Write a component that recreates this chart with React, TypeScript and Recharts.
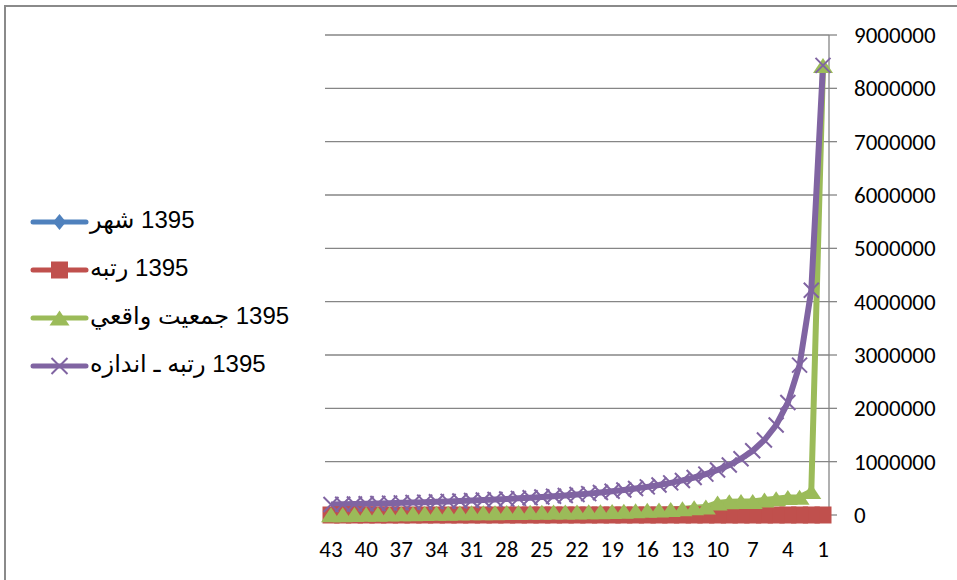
import React from 'react';
import { LineChart, Line, XAxis, YAxis, CartesianGrid } from 'recharts';

// categories: city rank 1..43 (axis drawn reversed, 1 on the right)
const ranks = [
  1, 2, 3, 4, 5, 6, 7, 8, 9, 10, 11, 12, 13, 14, 15, 16, 17, 18, 19, 20, 21, 22,
  23, 24, 25, 26, 27, 28, 29, 30, 31, 32, 33, 34, 35, 36, 37, 38, 39, 40, 41, 42, 43,
];

// "شهر" column holds city names, so it plots as zero
const cityValues = [
  0, 0, 0, 0, 0, 0, 0, 0, 0, 0, 0, 0, 0, 0, 0, 0, 0, 0, 0, 0, 0, 0,
  0, 0, 0, 0, 0, 0, 0, 0, 0, 0, 0, 0, 0, 0, 0, 0, 0, 0, 0, 0, 0,
];

const rankValues = [
  1, 2, 3, 4, 5, 6, 7, 8, 9, 10, 11, 12, 13, 14, 15, 16, 17, 18, 19, 20, 21, 22,
  23, 24, 25, 26, 27, 28, 29, 30, 31, 32, 33, 34, 35, 36, 37, 38, 39, 40, 41, 42, 43,
];

const actualPop = [
  8430000, 440000, 335000, 330000, 305000, 280000, 255000, 255000, 248000, 225000,
  150000, 135000, 115000, 105000, 95000, 88000, 78000, 72000, 67000, 63000,
  60000, 58000, 56000, 54000, 52000, 50000, 48000, 46000, 44000, 42000,
  40000, 37000, 34000, 31000, 28000, 25000, 22000, 19000, 16000, 13000,
  10000, 7000, 4000,
];

const rankSizePop = [
  8430000, 4215000, 2810000, 2108000, 1686000, 1405000, 1204000, 1054000, 937000, 843000,
  766000, 703000, 648000, 602000, 562000, 527000, 496000, 468000, 444000, 422000,
  401000, 383000, 367000, 351000, 337000, 324000, 312000, 301000, 291000, 281000,
  272000, 263000, 255000, 248000, 241000, 234000, 228000, 222000, 216000, 211000,
  206000, 201000, 196000,
];

const yTicks = [0, 1000000, 2000000, 3000000, 4000000, 5000000, 6000000, 7000000, 8000000, 9000000];

const seriesNames = ['1395 شهر', '1395 رتبه', '1395 جمعيت واقعي', '1395 رتبه ـ اندازه'];
const seriesKeys = ['city', 'rank1395', 'actual', 'rankSize'];
const colors = ['#4F81BD', '#C0504D', '#9BBB59', '#8064A2'];

type Shape = 'diamond' | 'square' | 'triangle' | 'cross';
const shapes: Shape[] = ['diamond', 'square', 'triangle', 'cross'];

const data = ranks.map((r, i) => ({
  rank: r,
  city: cityValues[i],
  rank1395: rankValues[i],
  actual: actualPop[i],
  rankSize: rankSizePop[i],
}));

const GRID = '#868686';
const AXIS_FONT = 'Carlito, Calibri, Lato, sans-serif';

function Marker({ shape, x, y, color, legend }: { shape: Shape; x: number; y: number; color: string; legend?: boolean }) {
  switch (shape) {
    case 'diamond':
      return <path d={`M${x},${y - 8}L${x + 6.5},${y}L${x},${y + 8}L${x - 6.5},${y}Z`} fill={color} />;
    case 'square':
      return <rect x={x - 8.5} y={y - 8.5} width={17} height={17} fill={color} />;
    case 'triangle':
      return <path d={`M${x},${y - 7.5}L${x + 10},${y + 7.5}L${x - 10},${y + 7.5}Z`} fill={color} />;
    default: {
      const h = legend ? 8 : 7.5;
      return (
        <path
          d={`M${x - h},${y - h}L${x + h},${y + h}M${x + h},${y - h}L${x - h},${y + h}`}
          stroke={color}
          strokeWidth={2}
          fill="none"
        />
      );
    }
  }
}

const dotFor = (shape: Shape, color: string) => (props: any) => {
  const { cx, cy, index } = props;
  if (cx == null || cy == null) return <g key={`${shape}-${index}`} />;
  return (
    <g key={`${shape}-${index}`}>
      <Marker shape={shape} x={cx} y={cy} color={color} />
    </g>
  );
};

const App: React.FC = () => {
  return (
    <div style={{ position: 'absolute', left: 0, top: 0, width: 957, height: 580, overflow: 'hidden', background: '#fff' }}>
      <div
        style={{
          position: 'absolute',
          left: 4,
          top: 5,
          width: 1000,
          height: 1000,
          border: '2px solid #8a8a8a',
          boxSizing: 'border-box',
        }}
      />
      <div style={{ position: 'absolute', left: 0, top: 0 }}>
        <LineChart width={957} height={580} data={data} margin={{ top: 35, right: 0, bottom: 0, left: 325 }}>
          <CartesianGrid vertical={false} stroke={GRID} strokeWidth={1.3} />
          <XAxis
            dataKey="rank"
            reversed
            interval={2}
            padding={{ left: 6, right: 6 }}
            height={65}
            tickLine={false}
            tickSize={0}
            tickMargin={26}
            axisLine={{ stroke: GRID, strokeWidth: 1.3 }}
            tick={{ fill: '#000', fontSize: 23, fontFamily: AXIS_FONT }}
          />
          <YAxis
            orientation="right"
            domain={[0, 9000000]}
            ticks={yTicks}
            interval={0}
            width={128}
            tickSize={8}
            tickMargin={17}
            axisLine={{ stroke: GRID, strokeWidth: 1.3 }}
            tickLine={{ stroke: GRID, strokeWidth: 1.3 }}
            tick={{ fill: '#000', fontSize: 23, fontFamily: AXIS_FONT }}
          />
          {seriesKeys.map((key, i) => (
            <Line
              key={key}
              type="linear"
              dataKey={key}
              name={seriesNames[i]}
              stroke={colors[i]}
              strokeWidth={6}
              dot={dotFor(shapes[i], colors[i])}
              activeDot={false}
              isAnimationActive={false}
            />
          ))}
        </LineChart>
      </div>
      <div
        style={{
          position: 'absolute',
          left: 30,
          top: 198,
          fontFamily: '"Liberation Sans", Arial, "DejaVu Sans", sans-serif',
          fontSize: 24,
          color: '#000',
        }}
      >
        {seriesNames.map((name, i) => (
          <div key={name} style={{ height: 48, display: 'flex', alignItems: 'center' }}>
            <svg width={59} height={24} style={{ flex: 'none' }}>
              <line x1={3} y1={12} x2={56} y2={12} stroke={colors[i]} strokeWidth={5} strokeLinecap="round" />
              <Marker shape={shapes[i]} x={29.5} y={12} color={colors[i]} legend />
            </svg>
            <span dir="rtl" style={{ marginTop: -4, marginLeft: 1, whiteSpace: 'nowrap' }}>
              {name}
            </span>
          </div>
        ))}
      </div>
    </div>
  );
};

export default App;
